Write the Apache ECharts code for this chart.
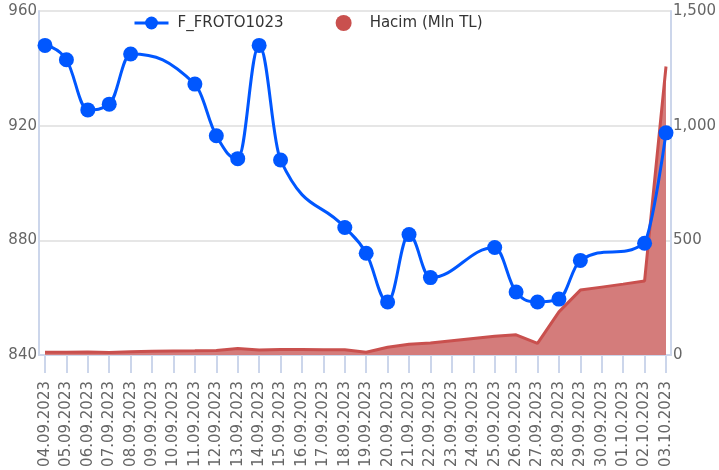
<!DOCTYPE html>
<html>
<head>
<meta charset="utf-8">
<script src="https://cdn.jsdelivr.net/npm/echarts@6/dist/echarts.min.js"></script>
<style>
  html,body{ margin:0; padding:0; background:#fff; }
  #chartBox{ width:719px; height:470px; }
</style>
</head>
<body>
<div id="chartBox"></div>
<script>
  // tarihler
  var dates = ['04.09.2023','05.09.2023','06.09.2023','07.09.2023','08.09.2023','09.09.2023','10.09.2023',
    '11.09.2023','12.09.2023','13.09.2023','14.09.2023','15.09.2023','16.09.2023','17.09.2023',
    '18.09.2023','19.09.2023','20.09.2023','21.09.2023','22.09.2023','23.09.2023','24.09.2023',
    '25.09.2023','26.09.2023','27.09.2023','28.09.2023','29.09.2023','30.09.2023','01.10.2023',
    '02.10.2023','03.10.2023'];
  // F_FROTO1023 fiyat (hafta sonu bos)
  var priceData = [948, 943, 925.5, 927.5, 945, null, null,
    934.5, 916.5, 908.5, 948, 908, null, null,
    884.5, 875.5, 858.5, 882, 867, null, null,
    877.5, 862, 858.5, 859.5, 873, null, null,
    879, 917.5];
  // Hacim (Mln TL)
  var volumeData = [12, 12, 13, 11, 14, 16, 17,
    18, 20, 28, 22, 24, 24, 23,
    23, 12, 34, 47, 52, 62, 72,
    82, 88, 51, 188, 283, 296, 309,
    323, 1258];
  var priceTicks = { min: 840, max: 960, interval: 40 };
  var volumeTicks = { min: 0, max: 1500, interval: 500 };

  var axisColor = '#ccd6eb';
  var blue = '#0057ff';
  var font = 'DejaVu Sans';

  // spline yolu (bos gunler atlanir), noktalar eksenden alinir
  function splinePath(api) {
    var pts = [];
    for (var i = 0; i < priceData.length; i++) {
      if (priceData[i] == null) continue;
      var c = api.coord([i, priceData[i]]);
      pts.push({ x: c[0], y: c[1] });
    }
    var sm = 1.5, den = sm + 1;
    for (var k = 1; k < pts.length - 1; k++) {
      var p = pts[k], a = pts[k - 1], b = pts[k + 1];
      var lx = (sm * p.x + a.x) / den, ly = (sm * p.y + a.y) / den;
      var rx = (sm * p.x + b.x) / den, ry = (sm * p.y + b.y) / den;
      var corr = 0;
      if (rx !== lx) corr = ((ry - ly) * (rx - p.x)) / (rx - lx) + p.y - ry;
      ly += corr; ry += corr;
      if (ly > a.y && ly > p.y) { ly = Math.max(a.y, p.y); ry = 2 * p.y - ly; }
      else if (ly < a.y && ly < p.y) { ly = Math.min(a.y, p.y); ry = 2 * p.y - ly; }
      if (ry > b.y && ry > p.y) { ry = Math.max(b.y, p.y); ly = 2 * p.y - ry; }
      else if (ry < b.y && ry < p.y) { ry = Math.min(b.y, p.y); ly = 2 * p.y - ry; }
      p.lx = lx; p.ly = ly; p.rx = rx; p.ry = ry;
    }
    var d = 'M' + pts[0].x + ' ' + pts[0].y;
    for (var j = 1; j < pts.length; j++) {
      var s = pts[j - 1], e = pts[j];
      d += ' C' + (s.rx != null ? s.rx : s.x) + ' ' + (s.ry != null ? s.ry : s.y) + ' ' +
        (e.lx != null ? e.lx : e.x) + ' ' + (e.ly != null ? e.ly : e.y) + ' ' + e.x + ' ' + e.y;
    }
    return d;
  }

  var myChart = echarts.init(document.getElementById('chartBox'));
  var option = {
    animation: false,
    textStyle: { fontFamily: font },
    legend: {
      left: 128,
      top: 10,
      itemWidth: 34,
      itemHeight: 16,
      itemGap: 52,
      textStyle: { fontSize: 15, color: '#333', fontFamily: font, padding: [0, 0, 0, 4] },
      data: [
        { name: 'F_FROTO1023', lineStyle: { opacity: 1, width: 3, color: blue } },
        { name: 'Hacim (Mln TL)', icon: 'circle' }
      ]
    },
    grid: [
      // cerceve + eksen cizgileri
      { left: 39, right: 46, top: 11, bottom: 115 },
      // veri alani
      { left: 45, right: 53, top: 11, bottom: 115 }
    ],
    xAxis: [
      {
        gridIndex: 0, type: 'value', min: 0, max: 1,
        axisLine: { show: true, onZero: false, lineStyle: { color: axisColor, width: 2 } },
        axisTick: { show: false }, axisLabel: { show: false }, splitLine: { show: false }
      },
      {
        gridIndex: 1, type: 'category', data: dates, boundaryGap: false,
        axisLine: { show: false, onZero: false },
        axisTick: { show: true, interval: 0, length: 18, lineStyle: { color: axisColor, width: 2 } },
        axisLabel: { interval: 0, rotate: 90, margin: 26, fontSize: 15, color: '#666', fontFamily: font },
        splitLine: { show: false }
      }
    ],
    yAxis: [
      {
        gridIndex: 0, type: 'value', position: 'left',
        min: priceTicks.min, max: priceTicks.max, interval: priceTicks.interval,
        axisLine: { show: true, onZero: false, lineStyle: { color: axisColor, width: 2 } },
        axisTick: { show: false },
        axisLabel: { margin: 2, fontSize: 15, color: '#666', fontFamily: font, padding: [3, 0, 0, 0] },
        splitLine: { show: true, lineStyle: { color: '#e6e6e6', width: 2 } }
      },
      {
        gridIndex: 0, type: 'value', position: 'right',
        min: volumeTicks.min, max: volumeTicks.max, interval: volumeTicks.interval,
        axisLine: { show: true, onZero: false, lineStyle: { color: axisColor, width: 2 } },
        axisTick: { show: false },
        axisLabel: { margin: 2, fontSize: 15, color: '#666', fontFamily: font, padding: [2, 0, 0, 0] },
        splitLine: { show: false }
      },
      { gridIndex: 1, type: 'value', show: false, min: priceTicks.min, max: priceTicks.max },
      { gridIndex: 1, type: 'value', show: false, min: volumeTicks.min, max: volumeTicks.max }
    ],
    series: [
      {
        name: 'Hacim (Mln TL)',
        type: 'line',
        xAxisIndex: 1,
        yAxisIndex: 3,
        data: volumeData,
        symbol: 'none',
        color: '#c9504e',
        lineStyle: { color: '#c9504e', width: 3 },
        areaStyle: { color: '#d47c7b', opacity: 1 },
        z: 1
      },
      {
        // noktalar
        name: 'F_FROTO1023',
        type: 'line',
        xAxisIndex: 1,
        yAxisIndex: 2,
        data: priceData,
        connectNulls: true,
        symbol: 'circle',
        symbolSize: 15,
        color: blue,
        lineStyle: { color: blue, width: 3, opacity: 0 },
        itemStyle: { color: blue },
        z: 3
      },
      {
        // spline cizgi
        type: 'custom',
        xAxisIndex: 1,
        yAxisIndex: 2,
        data: [[0, priceData[0]]],
        clip: false,
        silent: true,
        z: 2,
        renderItem: function (params, api) {
          return {
            type: 'path',
            shape: { pathData: splinePath(api) },
            style: { stroke: blue, lineWidth: 3, fill: null }
          };
        }
      }
    ]
  };
  myChart.setOption(option, true);
</script>
</body>
</html>
